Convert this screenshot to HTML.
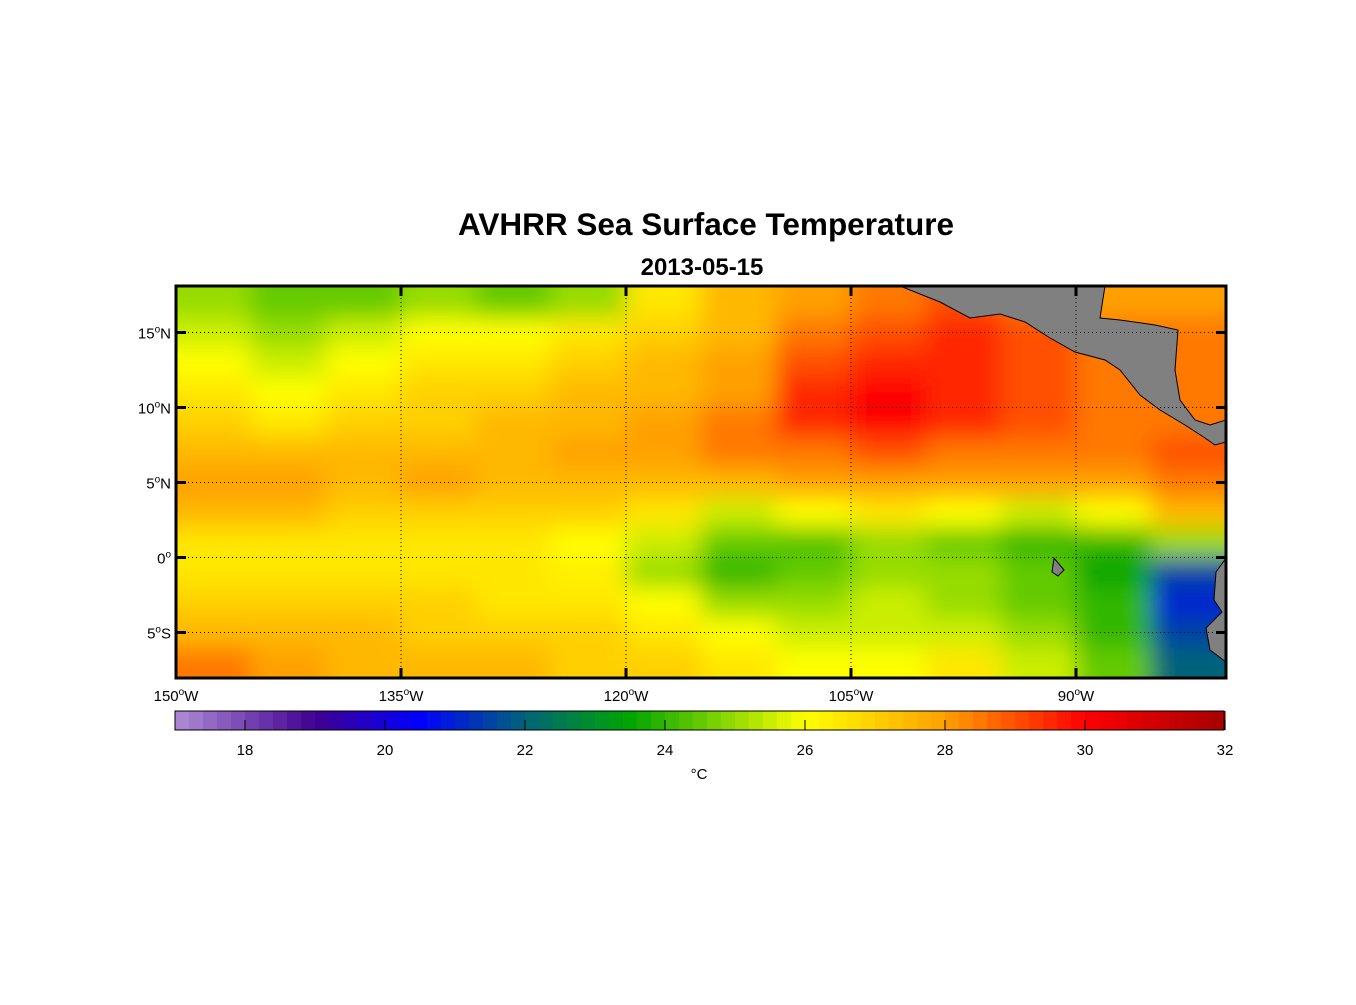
<!DOCTYPE html>
<html><head><meta charset="utf-8">
<style>
body{margin:0;background:#fff;width:1356px;height:1000px;overflow:hidden;font-family:"Liberation Sans",Arial,sans-serif}
</style></head>
<body>
<svg id="chart" width="1356" height="1000" xmlns="http://www.w3.org/2000/svg">
<defs>
<clipPath id="mapclip"><rect x="176" y="286" width="1050" height="392"/></clipPath>
<filter id="blur" x="-10%" y="-10%" width="120%" height="120%"><feGaussianBlur stdDeviation="12"/></filter>
</defs>
<text x="706" y="235" text-anchor="middle" font-size="31.5" font-weight="bold">AVHRR Sea Surface Temperature</text>
<text x="702" y="275" text-anchor="middle" font-size="24" font-weight="bold">2013-05-15</text>
<g id="map" clip-path="url(#mapclip)">
<g id="cells" filter="url(#blur)"></g>
<polygon fill="#808080" stroke="#000" stroke-width="1" points="900,286 940,302 970,318 1000,314 1025,322 1050,338 1075,352 1105,360 1120,370 1140,395 1160,410 1185,425 1205,438 1215,445 1226,442 1226,420 1210,425 1195,420 1180,400 1175,370 1178,330 1155,325 1120,320 1100,318 1105,286"/>
<polygon fill="#808080" stroke="#000" stroke-width="1" points="1226,558 1216,572 1214,600 1222,612 1206,628 1210,650 1226,662"/>
<polygon fill="#808080" stroke="#000" stroke-width="1" points="1054,558 1064,570 1058,576 1052,572"/>
<g id="grid"></g>
</g>
<rect x="176" y="286" width="1050" height="392" fill="none" stroke="#000" stroke-width="3"/>
<g id="axes"></g>
<g id="cbar"></g>
<text x="699" y="779" text-anchor="middle" font-size="15">°C</text>
</svg>
<script>
const lonCenters=[-147.5,-142.5,-137.5,-132.5,-127.5,-122.5,-117.5,-112.5,-107.5,-102.5,-97.5,-92.5,-87.5,-82.5];
const latCenters=[17,15,13,11,9,7,5,3,1,-1,-3,-5,-7];
const sst=[
[25,24.5,24.5,25,24.5,25,26.5,27.5,28,28.5,29,28.5,28,28],
[25.5,25,25.5,26,26,26.5,27,27.5,28.5,29,29.5,29,28.5,28.5],
[26,25.5,26,26.5,26.5,27,27.5,28,29,29.5,29.5,29,28.5,28.5],
[26.5,26,26.5,27,27,27.5,27.5,28,29.5,30,29.5,29,28.5,28.5],
[27,26.5,27,27,27.5,27.5,28,28.5,29.5,30,29.5,29,28.5,28.5],
[27.5,27.5,27.5,27.5,27.5,28,28,28.5,28.5,29,28.5,28.5,28.5,29],
[28,28,27.5,28,27.5,27.5,27.5,27.5,28,28,28,28,28,28.5],
[27.5,27.5,27,27,27,27,26.5,25.5,26,26.5,26,25.5,26,27.5],
[26.5,26.5,26.5,26.5,26.5,26,25.5,24.5,24.3,25,24.5,24,24,25],
[26.5,26.5,26.5,26.5,26.5,26.3,25,24,24.5,25,25,24.5,23.5,21.5],
[27,27,27,27,26.5,26.5,26,25,25,25.5,25,24.5,24,21],
[27.5,27.5,27.5,27,27,27,26.5,26,25.5,25.5,25.5,25,24,21.5],
[28.5,28,27.5,27.5,27.5,27,27,26.5,26,26,26.5,25.5,24.5,22]];
const lonTicks=[-150,-135,-120,-105,-90];
const lonLabels=["150","135","120","105","90"];
const latTicks=[15,10,5,0,-5];
const latLabels=["15","10","5","0","5"];
const latSuffix=["N","N","N","",'S'];
const cbarTicks=[18,20,22,24,26,28,30,32];

const NS="http://www.w3.org/2000/svg";
const x=lon=>176+(lon+150)*15;
const y=lat=>286+(18.1-lat)*15;
const cx=v=>175+(v-17)*70;
const stops=[[17,[176,140,214]],[19,[64,0,144]],[20.5,[0,0,255]],[22,[0,100,120]],[23.5,[0,165,0]],[25,[150,220,0]],[26,[255,255,0]],[28,[255,160,0]],[30,[255,0,0]],[32,[165,0,0]]];
function col(v){
  if(v<=stops[0][0])return `rgb(${stops[0][1]})`;
  for(let i=1;i<stops.length;i++){if(v<=stops[i][0]){const a=stops[i-1],b=stops[i],t=(v-a[0])/(b[0]-a[0]);
    return `rgb(${a[1].map((c,k)=>Math.round(c+(b[1][k]-c)*t)).join(',')})`;}}
  return `rgb(${stops[stops.length-1][1]})`;
}
function el(t,a,p){const e=document.createElementNS(NS,t);for(const k in a)e.setAttribute(k,a[k]);p.appendChild(e);return e;}
const cells=document.getElementById('cells');
latCenters.forEach((lat,i)=>lonCenters.forEach((lon,j)=>{
  let x0=x(lon-2.5),x1=x(lon+2.5),y0=y(lat+1),y1=y(lat-1);
  if(j==0)x0-=40;if(j==lonCenters.length-1)x1+=40;if(i==0)y0-=40;if(i==latCenters.length-1)y1+=40;
  const r=el('rect',{x:x0,y:y0,width:x1-x0+0.5,height:y1-y0+0.5,fill:col(sst[i][j])},cells);
  
  
}));
const grid=document.getElementById('grid'),axes=document.getElementById('axes');
lonTicks.forEach((lo,i)=>{
  if(i>0){const l=el('line',{x1:x(lo),x2:x(lo),y1:286,y2:678,stroke:'#000','stroke-width':1,'stroke-dasharray':'1,3'},grid);
  
  el('line',{x1:x(lo),x2:x(lo),y1:286,y2:296,stroke:'#000','stroke-width':3},axes);
  el('line',{x1:x(lo),x2:x(lo),y1:668,y2:678,stroke:'#000','stroke-width':3},axes);}
  const t=el('text',{x:x(lo),y:701,'text-anchor':'middle','font-size':15},axes);
  
  t.innerHTML=lonLabels[i]+'<tspan dy="-6" font-size="10">o</tspan><tspan dy="6">W</tspan>';
});
latTicks.forEach((la,i)=>{
  const l=el('line',{x1:176,x2:1226,y1:y(la),y2:y(la),stroke:'#000','stroke-width':1,'stroke-dasharray':'1,3'},grid);
  
  el('line',{x1:176,x2:186,y1:y(la),y2:y(la),stroke:'#000','stroke-width':3},axes);
  el('line',{x1:1216,x2:1226,y1:y(la),y2:y(la),stroke:'#000','stroke-width':3},axes);
  const t=el('text',{x:171,y:y(la)+6,'text-anchor':'end','font-size':15},axes);
  
  t.innerHTML=latLabels[i]+'<tspan dy="-6" font-size="10">o</tspan><tspan dy="6">'+latSuffix[i]+'</tspan>';
});
const cb=document.getElementById('cbar');
for(let v=17;v<32-1e-6;v+=0.2){
  const r=el('rect',{x:cx(v),y:711,width:14.6,height:19,fill:col(v+0.1)},cb);
  
}
el('rect',{x:175,y:711,width:1049,height:19,fill:'none',stroke:'#000','stroke-width':1},cb);
cbarTicks.forEach(v=>{
  el('line',{x1:cx(v),x2:cx(v),y1:720,y2:730,stroke:'#000','stroke-width':1},cb);
  const t=el('text',{x:cx(v),y:755,'text-anchor':'middle','font-size':15},cb);
  
  t.textContent=v;
});
</script>
</body></html>
